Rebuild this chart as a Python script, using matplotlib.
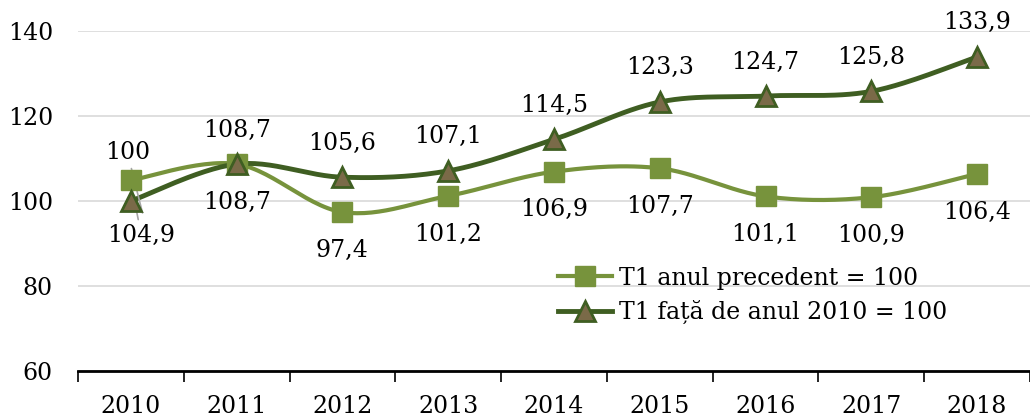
import matplotlib.pyplot as plt
import numpy as np

# Data
years = ['2010', '2011', '2012', '2013', '2014', '2015', '2016', '2017', '2018']
prev_year = [104.9, 108.7, 97.4, 101.2, 106.9, 107.7, 101.1, 100.9, 106.4]
vs_2010 = [100, 108.7, 105.6, 107.1, 114.5, 123.3, 124.7, 125.8, 133.9]

light = '#77933C'
dark = '#3F5E22'
tri_fill = '#7A6A48'

plt.rcParams['font.family'] = ['DejaVu Serif']
fs = 17


def smooth(y, n=30):
    # Excel-style smoothed line (cubic Bezier through the points)
    y = np.asarray(y, float)
    x = np.arange(len(y), dtype=float)
    xp = np.concatenate([[x[0]], x, [x[-1]]])
    yp = np.concatenate([[y[0]], y, [y[-1]]])
    t = np.linspace(0, 1, n)[:, None]
    xs, ys = [], []
    for i in range(len(y) - 1):
        p0 = np.array([x[i], y[i]])
        p3 = np.array([x[i + 1], y[i + 1]])
        p1 = p0 + (np.array([xp[i + 2], yp[i + 2]]) - np.array([xp[i], yp[i]])) / 6
        p2 = p3 - (np.array([xp[i + 3], yp[i + 3]]) - np.array([xp[i + 1], yp[i + 1]])) / 6
        pts = (1 - t) ** 3 * p0 + 3 * (1 - t) ** 2 * t * p1 + 3 * (1 - t) * t ** 2 * p2 + t ** 3 * p3
        xs.append(pts[:, 0])
        ys.append(pts[:, 1])
    return np.concatenate(xs), np.concatenate(ys)


def fmt(v):
    s = ('%.1f' % v).rstrip('0').rstrip('.')
    return s.replace('.', ',')


fig = plt.figure(figsize=(10.30, 4.16), dpi=100)
ax = fig.add_axes([0.0757, 0.108, 0.9243, 0.8175])

x = np.arange(len(years))

sx, sy = smooth(prev_year)
ax.plot(sx, sy, color=light, lw=3, zorder=3)
ax.plot(x, prev_year, 's', color=light, ms=14, zorder=4)

sx, sy = smooth(vs_2010)
ax.plot(sx, sy, color=dark, lw=3.5, zorder=3)
ax.plot(x, vs_2010, '^', color=tri_fill, mec=dark, mew=2, ms=14, zorder=5)

# legend proxies
h1, = ax.plot([], [], color=light, lw=3, marker='s', ms=14)
h2, = ax.plot([], [], color=dark, lw=3.5, marker='^', mfc=tri_fill, mec=dark, mew=2, ms=14)

# data labels: dark series above, light series below
for i in range(1, len(years)):
    ax.annotate(fmt(vs_2010[i]), (i, vs_2010[i]), xytext=(0, 24.5), textcoords='offset points',
                ha='center', va='center', fontsize=fs)
    ax.annotate(fmt(prev_year[i]), (i, prev_year[i]), xytext=(0, -27.5), textcoords='offset points',
                ha='center', va='center', fontsize=fs)

# 2010 labels with grey leader lines
ax.annotate(fmt(vs_2010[0]), (0.11, 97.2), xytext=(-10.8, 43.2), textcoords='offset points',
            ha='center', va='center', fontsize=fs,
            arrowprops=dict(arrowstyle='-', color='#A6A6A6', lw=1.2, shrinkA=1, shrinkB=0))
ax.annotate(fmt(prev_year[0]), (-0.02, 106.8), xytext=(9.1, -45.4), textcoords='offset points',
            ha='center', va='center', fontsize=fs,
            arrowprops=dict(arrowstyle='-', color='#A6A6A6', lw=1.2, shrinkA=1, shrinkB=0))

ax.set_xlim(-0.5, len(years) - 0.5)
ax.set_ylim(60, 140)
ax.set_yticks([60, 80, 100, 120, 140])
ax.set_xticks(x)
ax.set_xticklabels(years)
ax.set_xticks(np.arange(-0.5, len(years)), minor=True)
ax.tick_params(axis='x', which='major', length=0, labelsize=fs, pad=17)
ax.tick_params(axis='x', which='minor', length=8, width=1.2, color='black', direction='out')
ax.tick_params(axis='y', length=0, labelsize=fs, pad=18)
ax.grid(axis='y', color='#D9D9D9', lw=1.2)
ax.set_axisbelow(True)
for s in ['top', 'right', 'left']:
    ax.spines[s].set_visible(False)
ax.spines['bottom'].set_linewidth(2)
ax.spines['bottom'].set_zorder(6)

ax.legend([h1, h2], ['T1 anul precedent = 100', 'T1 față de anul 2010 = 100'],
          loc='upper left', bbox_to_anchor=(0.494, 0.335), frameon=False, fontsize=fs,
          handlelength=2.3, handletextpad=0.3, labelspacing=0.45, borderaxespad=0)

fig.savefig('out.png', dpi=100)
